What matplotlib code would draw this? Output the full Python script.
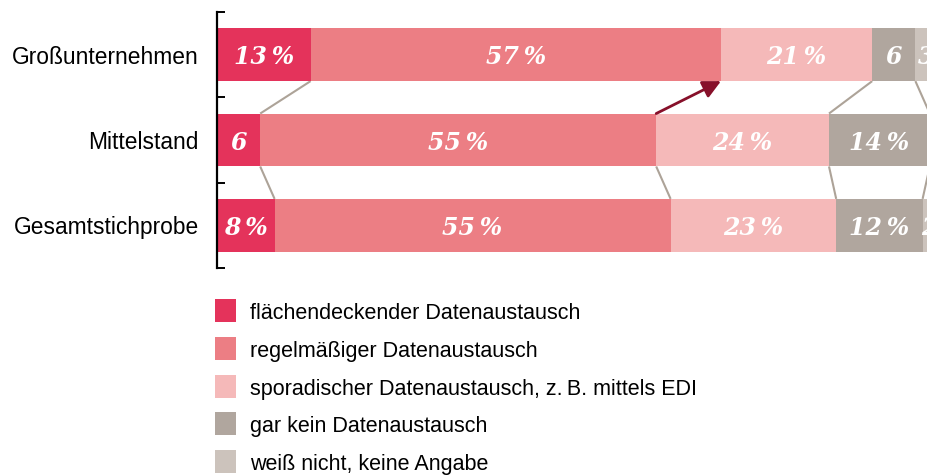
import matplotlib
matplotlib.use("Agg")
import matplotlib.pyplot as plt
from matplotlib.patches import Rectangle
import numpy as np

# Daten (Anteile in %)
groups = ["Großunternehmen", "Mittelstand", "Gesamtstichprobe"]
flaechendeckend = [13, 6, 8]
regelmaessig = [57, 55, 55]
sporadisch = [21, 24, 23]
gar_kein = [6, 14, 12]
weiss_nicht = [3, 1, 2]

series_labels = [
    "flächendeckender Datenaustausch",
    "regelmäßiger Datenaustausch",
    "sporadischer Datenaustausch, z.\u2009B. mittels EDI",
    "gar kein Datenaustausch",
    "weiß nicht, keine Angabe",
]
colors = ["#E4335B", "#EC7E84", "#F5B9B9", "#B0A69E", "#CCC3BC"]
line_grey = "#ADA398"
arrow_red = "#87102A"

W, H = 927, 475
fig = plt.figure(figsize=(W / 100, H / 100), dpi=100)
ax = fig.add_axes([217 / W, 1 - 268 / H, 720 / W, 256 / H])

series = np.array([flaechendeckend, regelmaessig, sporadisch, gar_kein, weiss_nicht])
y = np.arange(len(groups))
bar_h = 0.62
left = np.zeros(len(groups))
for vals, col in zip(series, colors):
    ax.barh(y, vals, left=left, height=bar_h, color=col, linewidth=0, zorder=2)
    for yi, (l, v) in enumerate(zip(left, vals)):
        if v < 2:
            continue
        txt = f"{v}\u2009%" if v >= 8 else f"{v}"
        ax.text(l + v / 2, yi, txt, ha="center", va="center_baseline",
                color="white", fontsize=17, family="DejaVu Serif",
                weight="bold", style="italic", zorder=4)
    left = left + vals

# Verbindungslinien zwischen den Segmentgrenzen
cum = np.cumsum(series, axis=0)
for i in range(len(groups) - 1):
    for k in range(len(series) - 1):
        x0, x1 = cum[k, i], cum[k, i + 1]
        if i == 0 and k == 1:
            ax.annotate("", xy=(x0, i + bar_h / 2), xytext=(x1, i + 1 - bar_h / 2),
                        arrowprops=dict(arrowstyle="-|>,head_length=0.6,head_width=0.3",
                                        color=arrow_red, lw=2, mutation_scale=18,
                                        shrinkA=0, shrinkB=0), zorder=3)
        else:
            ax.plot([x0, x1], [i + bar_h / 2, i + 1 - bar_h / 2],
                    color=line_grey, lw=1.5, zorder=1, solid_capstyle="butt")

ax.set_xlim(0, 100)
ax.set_ylim(len(groups) - 0.5, -0.5)
for s in ["top", "right", "bottom"]:
    ax.spines[s].set_visible(False)
ax.spines["left"].set_linewidth(1.6)
ax.spines["left"].set_zorder(5)
ax.set_xticks([])
ax.set_yticks(y)
ax.set_yticklabels(groups, fontsize=16.4, family="Liberation Sans")
ax.set_yticks(np.arange(-0.5, len(groups)), minor=True)
ax.tick_params(axis="y", which="major", length=0, pad=13)
ax.tick_params(axis="y", which="minor", direction="in", length=5.5, width=1.4)

# Legende
for i, (lab, col) in enumerate(zip(series_labels, colors)):
    top = 299 + 37.8 * i
    fig.patches.append(Rectangle((215 / W, 1 - (top + 23) / H), 21 / W, 23 / H,
                                 transform=fig.transFigure, color=col, lw=0))
    fig.text(250 / W, 1 - (top + 20) / H, lab, fontsize=15.5,
             family="Liberation Sans", va="baseline", ha="left")

fig.savefig("out.png", dpi=100)
